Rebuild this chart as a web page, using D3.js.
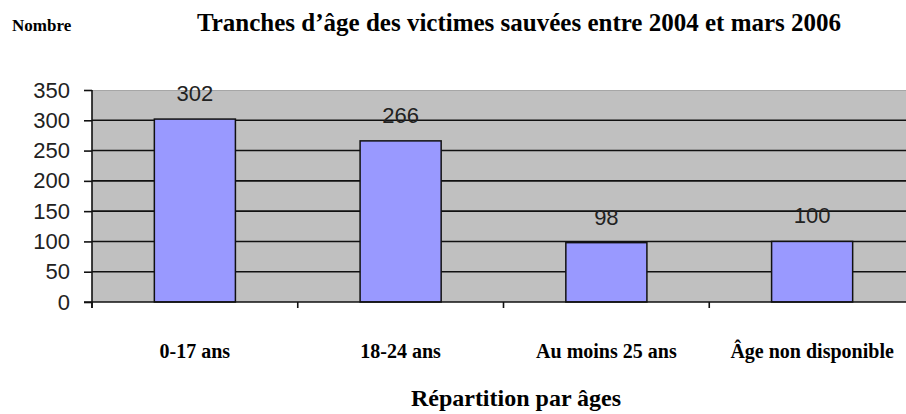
<!DOCTYPE html>
<html>
<head>
<meta charset="utf-8">
<script src="https://cdn.jsdelivr.net/npm/d3@7"></script>
<style>
  body { margin: 0; background: #fff; }
  svg { display: block; }
</style>
</head>
<body>
<div id="chart"></div>
<script>
var categories = ["0-17 ans", "18-24 ans", "Au moins 25 ans", "Âge non disponible"];
var victims = [302, 266, 98, 100];
var yTicks = [0, 50, 100, 150, 200, 250, 300, 350];

var titleText = "Tranches d’âge des victimes sauvées entre 2004 et mars 2006";
var yLabel = "Nombre";
var xLabel = "Répartition par âges";

var W = 906, H = 414;
var margin = {top: 90, left: 92, bottom: 112};
var plotW = 823,
    plotH = H - margin.top - margin.bottom;

var svg = d3.select("#chart").append("svg")
    .attr("width", W)
    .attr("height", H);

var xScale = d3.scaleBand().domain(categories).range([0, plotW]).padding(0),
    yScale = d3.scaleLinear().domain([0, 350]).range([plotH, 0]);

var g = svg.append("g")
    .attr("transform", "translate(" + margin.left + "," + margin.top + ")");

// grey plot area
g.append("rect")
    .attr("x", 0).attr("y", 0)
    .attr("width", plotW).attr("height", plotH)
    .style("fill", "#c0c0c0");
g.append("line")
    .attr("x1", 0).attr("x2", plotW)
    .attr("y1", 0.5).attr("y2", 0.5)
    .style("stroke", "#a6a6a6").style("stroke-width", 1);

// gridlines (not at top)
g.selectAll(".grid")
    .data(yTicks.filter(function(d) { return d > 0 && d < 350; }))
    .enter().append("line")
    .attr("class", "grid")
    .attr("x1", 0).attr("x2", plotW)
    .attr("y1", function(d) { return yScale(d); })
    .attr("y2", function(d) { return yScale(d); })
    .style("stroke", "#111").style("stroke-width", 1.6);

// bars
var barW = xScale.bandwidth() * 0.394;
g.selectAll(".bar")
    .data(victims)
    .enter().append("rect")
    .attr("class", "bar")
    .attr("x", function(d, i) { return xScale(categories[i]) + xScale.bandwidth() / 2 - barW / 2; })
    .attr("y", function(d) { return yScale(d); })
    .attr("width", barW)
    .attr("height", function(d) { return plotH - yScale(d); })
    .style("fill", "#9999ff")
    .style("stroke", "#111")
    .style("stroke-width", 1.5);

// value labels
g.selectAll(".val")
    .data(victims)
    .enter().append("text")
    .attr("class", "val")
    .attr("x", function(d, i) { return xScale(categories[i]) + xScale.bandwidth() / 2; })
    .attr("y", function(d) { return yScale(d) - 18; })
    .attr("text-anchor", "middle")
    .style("font-family", "'Liberation Sans', Arial, sans-serif")
    .style("font-size", "22px")
    .style("fill", "#222")
    .text(function(d) { return d; });

// y axis
var yAxis = d3.axisLeft(yScale).tickValues(yTicks).tickSize(8).tickPadding(14);
var ya = g.append("g").call(yAxis);
ya.select(".domain").remove();
ya.selectAll(".tick line").style("stroke", "#111").style("stroke-width", 1.6);
ya.selectAll(".tick text")
    .style("font-family", "'Liberation Sans', Arial, sans-serif")
    .style("font-size", "22px")
    .style("fill", "#222");
g.append("line")
    .attr("x1", 0).attr("x2", 0)
    .attr("y1", 0).attr("y2", plotH + 6)
    .style("stroke", "#111").style("stroke-width", 1.6);

// x axis: ticks on band edges
var edges = categories.map(function(c) { return xScale(c); }).concat([plotW]);
g.append("line")
    .attr("x1", -8).attr("x2", plotW)
    .attr("y1", plotH).attr("y2", plotH)
    .style("stroke", "#111").style("stroke-width", 1.6);
g.selectAll(".xtick")
    .data(edges)
    .enter().append("line")
    .attr("class", "xtick")
    .attr("x1", function(d) { return d; }).attr("x2", function(d) { return d; })
    .attr("y1", plotH).attr("y2", plotH + 6)
    .style("stroke", "#111").style("stroke-width", 1.6);

// category labels
g.selectAll(".cat")
    .data(categories)
    .enter().append("text")
    .attr("class", "cat")
    .attr("x", function(d) { return xScale(d) + xScale.bandwidth() / 2; })
    .attr("y", 268)
    .attr("text-anchor", "middle")
    .style("font-family", "'Liberation Serif', 'Times New Roman', serif")
    .style("font-weight", "bold")
    .style("font-size", "20px")
    .style("fill", "#000")
    .text(function(d) { return d; })
    .each(function() {
        // keep last label inside the window
        var w = this.getComputedTextLength();
        var x = +d3.select(this).attr("x") + margin.left;
        if (x + w / 2 > W - 4) d3.select(this).attr("x", W - 4 - w / 2 - margin.left);
    });

// titles
svg.append("text")
    .attr("x", 519).attr("y", 31)
    .attr("text-anchor", "middle")
    .style("font-family", "'Liberation Serif', 'Times New Roman', serif")
    .style("font-weight", "bold")
    .style("font-size", "25px")
    .text(titleText);

svg.append("text")
    .attr("x", 12).attr("y", 31)
    .style("font-family", "'Liberation Serif', 'Times New Roman', serif")
    .style("font-weight", "bold")
    .style("font-size", "17px")
    .text(yLabel);

svg.append("text")
    .attr("x", 516).attr("y", 406)
    .attr("text-anchor", "middle")
    .style("font-family", "'Liberation Serif', 'Times New Roman', serif")
    .style("font-weight", "bold")
    .style("font-size", "24px")
    .text(xLabel);
</script>
</body>
</html>
